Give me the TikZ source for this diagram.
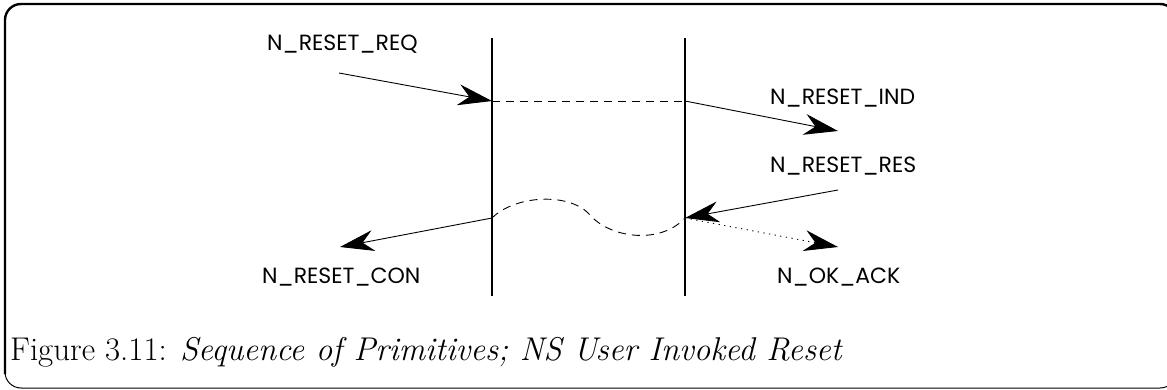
\documentclass[tikz,border=0pt]{standalone}
\usepackage{fontspec}
\newfontfamily\lblfont{Poppins}
\usetikzlibrary{arrows.meta}
\begin{document}
\begin{tikzpicture}[x=1pt,y=-1pt,
  lbl/.style={font=\lblfont\fontsize{22}{26}\selectfont, inner sep=0pt, anchor=west},
  life/.style={line width=1.8pt},
  msg/.style={line width=0.9pt, -{Stealth[length=34pt,width=21pt,inset=11pt]}},
  dotmsg/.style={msg, dash pattern=on 1.2pt off 4.5pt},
  link/.style={line width=0.9pt, dash pattern=on 8pt off 6pt},
  thickframe/.style={line width=2.4pt, rounded corners=16pt},
  thinframe/.style={line width=1pt, rounded corners=16pt}
]
\useasboundingbox (0,0) rectangle (1167,390);
\begin{scope}
\clip (0,0) rectangle (1167,390);
\draw[thickframe] (5,374) -- (5,4) -- (1176,4) -- (1176,40);
\draw[thinframe] (5,350) -- (5,388) -- (1176,388) -- (1176,350);
\end{scope}
% lifelines
\coordinate (L1t) at (492,38); \coordinate (L1b) at (492,296);
\coordinate (L2t) at (685,38); \coordinate (L2b) at (685,296);
\draw[life] (L1t) -- (L1b);
\draw[life] (L2t) -- (L2b);
% points
\coordinate (reqS) at (339,73);
\coordinate (reqE) at (492,101);
\coordinate (indS) at (685,101);
\coordinate (indE) at (838,131);
\coordinate (resS) at (838,190);
\coordinate (resE) at (685,218);
\coordinate (ackE) at (838,247);
\coordinate (conS) at (492,218);
\coordinate (conE) at (340,247);
% labels
\node[lbl] (req) at (267,44) {N\_RESET\_REQ};
\node[lbl] (ind) at (770,98) {N\_RESET\_IND};
\node[lbl] (res) at (770,166) {N\_RESET\_RES};
\node[lbl] (con) at (262,277) {N\_RESET\_CON};
\node[lbl] (ack) at (777,277) {N\_OK\_ACK};
% messages
\draw[msg] (reqS) -- (reqE);
\draw[link] (reqE) -- (indS);
\draw[msg] (indS) -- (indE);
\draw[msg] (resS) -- (resE);
\draw[dotmsg] (resE) -- (ackE);
\draw[msg] (conS) -- (conE);
\draw[link] (conS) .. controls (515,195) and (570,192) .. (590,215)
  .. controls (610,238) and (660,245) .. (resE);
% caption
\node[inner sep=0pt, anchor=base west] (cap) at (10,360) {\fontsize{32.9}{38}\selectfont Figure 3.11: \textit{Sequence of Primitives; NS User Invoked Reset}};
\end{tikzpicture}
\end{document}
